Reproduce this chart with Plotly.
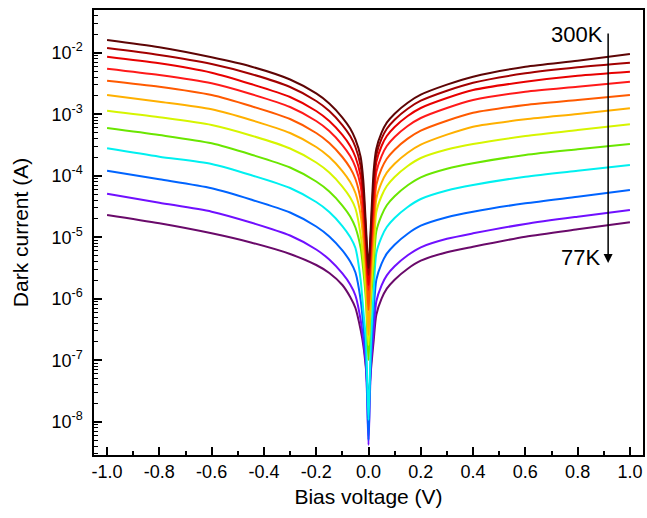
import numpy as np
import plotly.graph_objects as go

# Bias voltage (V)
V = [-1.0, -0.8, -0.6, -0.45, -0.3, -0.2, -0.15, -0.1, -0.07, -0.05, -0.03, -0.02, -0.01, -0.005, 0.0,
     0.005, 0.01, 0.02, 0.03, 0.05, 0.07, 0.1, 0.15, 0.2, 0.3, 0.4, 0.6, 0.8, 1.0]

# log10 of dark current (A), one list per temperature, hottest first
logI_300 = [-1.794, -1.912, -2.075, -2.224, -2.436, -2.663, -2.826, -3.054, -3.233, -3.411, -3.696, -4.070, -4.802, -5.208, -5.501,
            -5.176, -4.720, -3.907, -3.561, -3.301, -3.138, -2.992, -2.813, -2.683, -2.520, -2.390, -2.228, -2.130, -2.021]
logI_280 = [-1.924, -2.037, -2.184, -2.346, -2.558, -2.785, -2.948, -3.176, -3.355, -3.533, -3.842, -4.233, -4.916, -5.306, -5.615,
            -5.273, -4.850, -4.070, -3.659, -3.398, -3.236, -3.089, -2.911, -2.781, -2.618, -2.488, -2.335, -2.237, -2.163]
logI_260 = [-2.065, -2.172, -2.325, -2.509, -2.720, -2.948, -3.111, -3.338, -3.517, -3.696, -4.005, -4.395, -5.046, -5.452, -5.777,
            -5.403, -4.981, -4.265, -3.777, -3.517, -3.355, -3.208, -3.029, -2.899, -2.737, -2.607, -2.472, -2.374, -2.309]
logI_240 = [-2.260, -2.363, -2.498, -2.672, -2.883, -3.111, -3.273, -3.501, -3.680, -3.859, -4.168, -4.558, -5.176, -5.566, -5.859,
            -5.533, -5.127, -4.428, -3.940, -3.680, -3.517, -3.371, -3.192, -3.062, -2.899, -2.769, -2.634, -2.553, -2.472]
logI_220 = [-2.455, -2.553, -2.688, -2.867, -3.078, -3.306, -3.468, -3.696, -3.875, -4.054, -4.395, -4.802, -5.371, -5.777, -6.184,
            -5.745, -5.338, -4.688, -4.146, -3.886, -3.724, -3.577, -3.398, -3.268, -3.106, -2.976, -2.850, -2.769, -2.688]
logI_200 = [-2.688, -2.797, -2.920, -3.094, -3.306, -3.533, -3.696, -3.924, -4.102, -4.281, -4.639, -5.046, -5.615, -6.102, -6.590,
            -6.070, -5.566, -4.964, -4.374, -4.114, -3.951, -3.805, -3.626, -3.496, -3.333, -3.203, -3.083, -2.997, -2.904]
logI_180 = [-2.943, -3.050, -3.176, -3.346, -3.558, -3.785, -3.948, -4.176, -4.355, -4.533, -4.964, -5.371, -5.859, -6.314, -6.753,
            -6.281, -5.826, -5.241, -4.590, -4.330, -4.168, -4.021, -3.842, -3.712, -3.574, -3.485, -3.355, -3.257, -3.164]
logI_160 = [-3.224, -3.338, -3.473, -3.655, -3.867, -4.094, -4.257, -4.485, -4.663, -4.842, -5.176, -5.533, -6.021, -6.509, -6.997,
            -6.476, -5.989, -5.452, -4.904, -4.644, -4.481, -4.335, -4.156, -4.026, -3.888, -3.798, -3.663, -3.571, -3.485]
logI_140 = [-3.555, -3.691, -3.810, -3.989, -4.200, -4.428, -4.590, -4.818, -4.997, -5.176, -5.696, -6.184, -6.672, -7.322, -7.972,
            -7.289, -6.639, -5.859, -5.257, -4.997, -4.834, -4.688, -4.509, -4.379, -4.241, -4.151, -4.016, -3.919, -3.826]
logI_120 = [-3.919, -4.059, -4.205, -4.387, -4.598, -4.826, -4.989, -5.216, -5.395, -5.574, -6.021, -6.428, -6.916, -7.566, -8.298,
            -7.533, -6.867, -6.184, -5.691, -5.431, -5.268, -5.122, -4.943, -4.813, -4.675, -4.585, -4.449, -4.342, -4.233]
logI_100 = [-4.293, -4.439, -4.585, -4.761, -4.972, -5.200, -5.363, -5.590, -5.769, -5.948, -6.346, -6.672, -7.078, -7.647, -8.379,
            -7.615, -7.029, -6.509, -6.042, -5.782, -5.620, -5.473, -5.294, -5.164, -5.026, -4.937, -4.785, -4.667, -4.558]
logI_77 = [-4.639, -4.774, -4.937, -5.086, -5.273, -5.452, -5.582, -5.777, -5.972, -6.151, -6.509, -6.753, -7.127, -7.403, -7.647,
           -7.387, -7.127, -6.672, -6.260, -6.000, -5.837, -5.691, -5.512, -5.382, -5.244, -5.155, -4.992, -4.872, -4.758]

temps = ["300K", "280K", "260K", "240K", "220K", "200K", "180K", "160K", "140K", "120K", "100K", "77K"]
series = [logI_300, logI_280, logI_260, logI_240, logI_220, logI_200,
          logI_180, logI_160, logI_140, logI_120, logI_100, logI_77]
colors = ["#5e0505", "#a30000", "#e80000", "#ff1a1a", "#ff5a00", "#ffb000",
          "#d6f500", "#6ae600", "#00f0f0", "#0064ff", "#7010ff", "#6a0a6a"]

x_ticks = [-1.0, -0.8, -0.6, -0.4, -0.2, 0.0, 0.2, 0.4, 0.6, 0.8, 1.0]
x_ticktext = ["-1.0", "-0.8", "-0.6", "-0.4", "-0.2", "0.0", "0.2", "0.4", "0.6", "0.8", "1.0"]
x_minor = [-0.9, -0.7, -0.5, -0.3, -0.1, 0.1, 0.3, 0.5, 0.7, 0.9]
y_exps = [-8, -7, -6, -5, -4, -3, -2]

fig = go.Figure()
for t, s, c in reversed(list(zip(temps, series, colors))):
    fig.add_trace(go.Scatter(x=V, y=10 ** np.array(s), mode="lines", name=t,
                             line=dict(color=c, width=2, shape="spline", smoothing=0.7),
                             showlegend=False))

font_family = "Arial, Liberation Sans, sans-serif"
y_minor = [m * 10.0 ** e for e in range(-9, -1) for m in range(2, 10)]

fig.update_layout(
    width=647, height=518,
    margin=dict(l=94, r=2, t=10, b=63),
    paper_bgcolor="white", plot_bgcolor="white",
    font=dict(family=font_family, color="black", size=18),
    xaxis=dict(
        range=[-1.05, 1.05], showgrid=False, zeroline=False,
        showline=True, linecolor="black", linewidth=1.5, mirror=True,
        ticks="inside", ticklen=8, tickwidth=1.5, tickcolor="black",
        tickmode="array", tickvals=x_ticks, ticktext=x_ticktext,
        tickfont=dict(size=18, family=font_family),
        minor=dict(ticks="inside", ticklen=4, tickwidth=1.5, tickcolor="black",
                   tickmode="array", tickvals=x_minor, showgrid=False),
        title=dict(text="Bias voltage (V)", font=dict(size=21, family=font_family), standoff=8),
    ),
    yaxis=dict(
        type="log", range=[-8.541, -1.306], showgrid=False, zeroline=False,
        showline=True, linecolor="black", linewidth=1.5, mirror=True,
        ticks="inside", ticklen=8, tickwidth=1.5, tickcolor="black",
        tickmode="array", tickvals=[10.0 ** e for e in y_exps],
        ticktext=["10<sup>%d</sup>" % e for e in y_exps],
        tickfont=dict(size=18, family=font_family),
        ticklabelstandoff=6,
        minor=dict(ticks="inside", ticklen=4, tickwidth=1.2, tickcolor="black",
                   tickmode="array", tickvals=y_minor, showgrid=False),
        title=dict(text="Dark current (A)", font=dict(size=21, family=font_family), standoff=17),
    ),
    annotations=[
        dict(xref="x domain", yref="y domain", x=0.9365, y=0.4315, ax=0.9365, ay=0.9506,
             axref="x domain", ayref="y domain", showarrow=True, arrowhead=2, arrowsize=1.2,
             arrowwidth=1.5, arrowcolor="black", text=""),
        dict(xref="x domain", yref="y domain", x=0.931, y=0.946, xanchor="right", yanchor="middle",
             text="300K", showarrow=False, font=dict(size=22, family=font_family)),
        dict(xref="x domain", yref="y domain", x=0.926, y=0.444, xanchor="right", yanchor="middle",
             text="77K", showarrow=False, font=dict(size=22, family=font_family)),
    ],
)

fig.write_html("out.html")
